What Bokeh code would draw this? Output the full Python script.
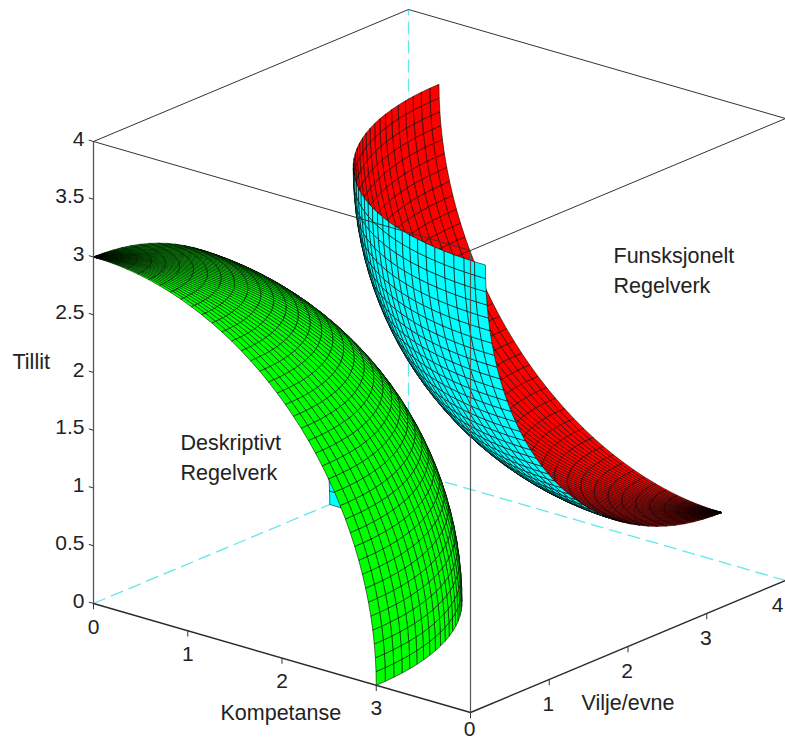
import numpy as np
from bokeh.plotting import figure
from bokeh.models import Range1d, ColumnDataSource
from bokeh.core.properties import value
from bokeh.embed import file_html
from bokeh.resources import INLINE

# ---- data ----
z_ticks = [0, 0.5, 1, 1.5, 2, 2.5, 3, 3.5, 4]
z_tick_labels = ["0", "0.5", "1", "1.5", "2", "2.5", "3", "3.5", "4"]
x_ticks = [0, 1, 2, 3]
x_tick_labels = ["0", "1", "2", "3"]
y_ticks = [0, 1, 2, 3, 4]
y_tick_labels = ["0", "1", "2", "3", "4"]
axis_limit = 4
sphere_radius = 3
green_center = (0.0, 0.0, 0.0)
red_center = (4.0, 3.19, 3.82)
grid_divisions = 40
quarter_turn = np.pi / 2

# ---- projection of the 3-D box (reference px) ----
ORIGIN = np.array([93.0, 603.0])
UX = np.array([94.25, 27.25])
UY = np.array([78.75, -33.0])
UZ = np.array([0.0, -115.5])
VIEW = np.array([1.0, -1.197, 0.578])
VIEW = VIEW / np.linalg.norm(VIEW)


def proj(x, y, z):
    x, y, z = np.asarray(x, float), np.asarray(y, float), np.asarray(z, float)
    return (ORIGIN[0] + UX[0] * x + UY[0] * y + UZ[0] * z,
            ORIGIN[1] + UX[1] * x + UY[1] * y + UZ[1] * z)


W, H = 785, 740
p = figure(width=W, height=H, output_backend="svg", toolbar_location=None,
           x_range=Range1d(0, W), y_range=Range1d(H, 0), min_border=0,
           outline_line_color=None, background_fill_color="white")
p.xaxis.visible = False
p.yaxis.visible = False
p.grid.visible = False


def seg(a, b, **kw):
    xs, ys = proj([a[0], b[0]], [a[1], b[1]], [a[2], b[2]])
    p.line(list(xs), list(ys), **kw)


L = axis_limit
# hidden back edges
dash = dict(line_color="#62e6ea", line_dash="13 6", line_width=1.3)
seg((0, 0, 0), (0, L, 0), **dash)
seg((0, L, 0), (L, L, 0), **dash)
seg((0, L, 0), (0, L, L), **dash)


def octant(center, sign, outer, inner):
    """Quads for one sphere octant; sign=+1 upper (+,+,+), sign=-1 lower (-,-,-)."""
    polar = np.linspace(0, quarter_turn, grid_divisions + 1)
    azim = np.linspace(0, quarter_turn, grid_divisions + 1)
    xs, ys, cols, depth = [], [], [], []
    for i in range(grid_divisions):
        for j in range(grid_divisions):
            pp = np.array([polar[i], polar[i + 1], polar[i + 1], polar[i]])
            aa = np.array([azim[j], azim[j], azim[j + 1], azim[j + 1]])
            nx = sign * np.sin(pp) * np.cos(aa)
            ny = sign * np.sin(pp) * np.sin(aa)
            nz = sign * np.cos(pp)
            X = center[0] + sphere_radius * nx
            Y = center[1] + sphere_radius * ny
            Z = center[2] + sphere_radius * nz
            u, v = proj(X, Y, Z)
            xs.append(list(u))
            ys.append(list(v))
            n = np.array([nx.mean(), ny.mean(), nz.mean()])
            cols.append(outer if n @ VIEW > 0 else inner)
            depth.append(X.mean() * VIEW[0] + Y.mean() * VIEW[1] + Z.mean() * VIEW[2])
    return xs, ys, cols, depth


gx, gy, gc, gd = octant(green_center, 1, "#00ff00", "#00ffff")
rx, ry, rc, rd = octant(red_center, -1, "#00ffff", "#ff0000")
for xs, ys, cols, depth in ((gx, gy, gc, gd), (rx, ry, rc, rd)):
    order = np.argsort(depth)
    src = ColumnDataSource(dict(xs=[xs[i] for i in order], ys=[ys[i] for i in order],
                                c=[cols[i] for i in order]))
    p.patches("xs", "ys", source=src, fill_color="c", line_color="black",
              line_width=0.65, line_alpha=0.85)

# solid box edges
thin = dict(line_color="#333333", line_width=1)
heavy = dict(line_color="#2a2a2a", line_width=1.4)
seg((0, 0, 0), (0, 0, L), line_color="#555555", line_width=1.3)
seg((0, 0, 0), (L, 0, 0), **heavy)
seg((L, 0, 0), (L, L, 0), **heavy)
seg((L, 0, 0), (L, 0, L), line_color="#555555", line_width=1.2)
seg((0, 0, L), (L, 0, L), **thin)
seg((L, 0, L), (L, L, L), **thin)
seg((0, 0, L), (0, L, L), **thin)
seg((0, L, L), (L, L, L), **thin)
seg((L, L, 0), (L, L, L), **thin)

# ticks
for t in z_ticks:
    seg((0, 0, t), (-0.05, 0, t), **thin)
for t in x_ticks:
    seg((t, 0, 0), (t, 0, -0.05), **thin)
for t in y_ticks:
    seg((L, t, 0), (L, t, -0.05), **thin)

font = value("Liberation Sans")
tick_size = "21px"
ty = [proj(0, 0, t)[1] - 3 for t in z_ticks]
p.text([84] * len(z_ticks), ty, text=z_tick_labels, text_font=font, text_font_size=tick_size,
       text_align="right", text_baseline="middle", text_color="#222222")

xu, xv = proj(x_ticks, [0] * 4, [0] * 4)
p.text(list(xu), list(xv + 23), text=x_tick_labels, text_font=font, text_font_size=tick_size,
       text_align="center", text_baseline="middle", text_color="#222222")
yu, yv = proj([L] * 5, y_ticks, [0] * 5)
yu = np.minimum(yu - 1, W - 8)      # keep the last label inside the page
yv = np.minimum(yv + 24, H - 12)    # keep the first label inside the page
p.text(list(yu), list(yv), text=y_tick_labels, text_font=font, text_font_size=tick_size,
       text_align="center", text_baseline="middle", text_color="#222222")

names = ["Tillit", "Kompetanse", "Vilje/evne", "Deskriptivt", "Regelverk", "Funsksjonelt", "Regelverk"]
name_x = [12, 220, 581, 180, 180, 613, 613]
name_y = [361, 712, 702, 442, 472, 255, 285]
p.text(name_x, name_y, text=names, text_font=font,
       text_font_size="21.5px", text_align="left", text_baseline="middle", text_color="#222222")

open("out.html", "w").write(file_html(p, INLINE))
